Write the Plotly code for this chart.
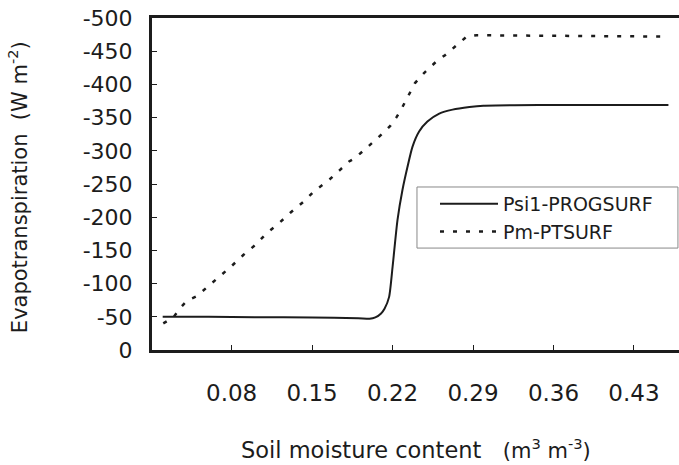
import plotly.graph_objects as go

# Psi1-PROGSURF (solid)
psi_x = [0.020, 0.060, 0.100, 0.150, 0.190, 0.200, 0.2050, 0.2100, 0.2130, 0.2170,
         0.2200, 0.2243, 0.2286, 0.2330, 0.2373, 0.2431, 0.2503, 0.2606, 0.2722,
         0.2869, 0.2990, 0.3500, 0.4000, 0.4600]
psi_y = [-50, -50, -49.5, -49, -48, -47, -49, -55, -62, -80,
         -125, -196, -241, -276, -306, -329, -344, -356, -362,
         -366, -368, -369, -369, -369]

# Pm-PTSURF (dotted)
pm_x = [0.0205, 0.0292, 0.0351, 0.0410, 0.0496, 0.0612, 0.0699, 0.0797, 0.0901,
        0.1005, 0.1105, 0.1212, 0.1313, 0.1423, 0.1523, 0.1640, 0.1741, 0.1822,
        0.1873, 0.1975, 0.2076, 0.2178, 0.2236, 0.2280, 0.2337, 0.2395, 0.2467,
        0.2525, 0.2584, 0.2656, 0.2714, 0.2772, 0.2845, 0.2932, 0.3500, 0.4000, 0.4600]
pm_y = [-40, -49, -63, -74, -81, -98, -111, -126, -143,
        -158, -176, -191, -207, -223, -240, -255, -271, -284,
        -289, -304, -320, -337, -351, -364, -384, -402, -416,
        -426, -435, -444, -453, -462, -472, -474, -473, -473, -472]

x_tickvals = [0.08, 0.15, 0.22, 0.29, 0.36, 0.43]
x_ticktext = ["0.08", "0.15", "0.22", "0.29", "0.36", "0.43"]
y_tickvals = [0, -50, -100, -150, -200, -250, -300, -350, -400, -450, -500]
y_ticktext = ["0", "-50", "-100", "-150", "-200", "-250", "-300", "-350", "-400", "-450", "-500"]

FONT = "DejaVu Sans"
INK = "#1c1c1c"

fig = go.Figure()
fig.add_trace(go.Scatter(x=psi_x, y=psi_y, mode="lines", name="Psi1-PROGSURF",
                         line=dict(color=INK, width=2, shape="spline", smoothing=0.6)))
fig.add_trace(go.Scatter(x=pm_x, y=pm_y, mode="lines", name="Pm-PTSURF",
                         line=dict(color=INK, width=2.5, dash="4px,9px")))

fig.update_layout(
    width=679, height=465,
    margin=dict(l=152, r=0, t=18, b=115),
    paper_bgcolor="white", plot_bgcolor="white",
    font=dict(family=FONT, color=INK, size=22),
    showlegend=True,
    legend=dict(x=0.537, y=0.497, xanchor="left", yanchor="top",
                borderwidth=0, bgcolor="rgba(0,0,0,0)",
                font=dict(family=FONT, size=19, color=INK),
                itemwidth=58, tracegroupgap=0),
    shapes=[dict(type="rect", xref="paper", yref="paper",
                 x0=0.5028, x1=0.998, y0=0.307, y1=0.491,
                 line=dict(color="#888", width=1), fillcolor="rgba(0,0,0,0)",
                 layer="above")],
    xaxis=dict(range=[0.0107, 0.4692], showgrid=False, zeroline=False,
               showline=True, linecolor=INK, linewidth=3, mirror=True,
               ticks="inside", ticklen=5, tickcolor=INK, tickwidth=1,
               tickvals=x_tickvals, ticktext=x_ticktext,
               tickfont=dict(family=FONT, size=23, color=INK),
               ticklabelstandoff=20),
    yaxis=dict(range=[0, -500], showgrid=False, zeroline=False,
               showline=True, linecolor=INK, linewidth=3, mirror=False,
               ticks="inside", ticklen=5, tickcolor=INK, tickwidth=1,
               tickvals=y_tickvals, ticktext=y_ticktext,
               tickfont=dict(family=FONT, size=22, color=INK),
               ticklabelstandoff=12),
    annotations=[
        dict(text="Evapotranspiration\u00a0\u00a0(W m<sup>-2</sup>)", textangle=-90,
             xref="paper", yref="paper", x=-0.254, y=0.491,
             xanchor="center", yanchor="middle", showarrow=False,
             font=dict(family=FONT, size=21, color=INK)),
        dict(text="Soil moisture content\u00a0\u00a0\u00a0"
                  "<span style='font-size:21px'>(m<sup>3</sup> m<sup>-3</sup>)</span>",
             xref="paper", yref="paper", x=0.5, y=-0.298,
             xanchor="center", yanchor="middle", showarrow=False,
             font=dict(family=FONT, size=22.5, color=INK)),
    ],
)

fig.write_html("out.html")
